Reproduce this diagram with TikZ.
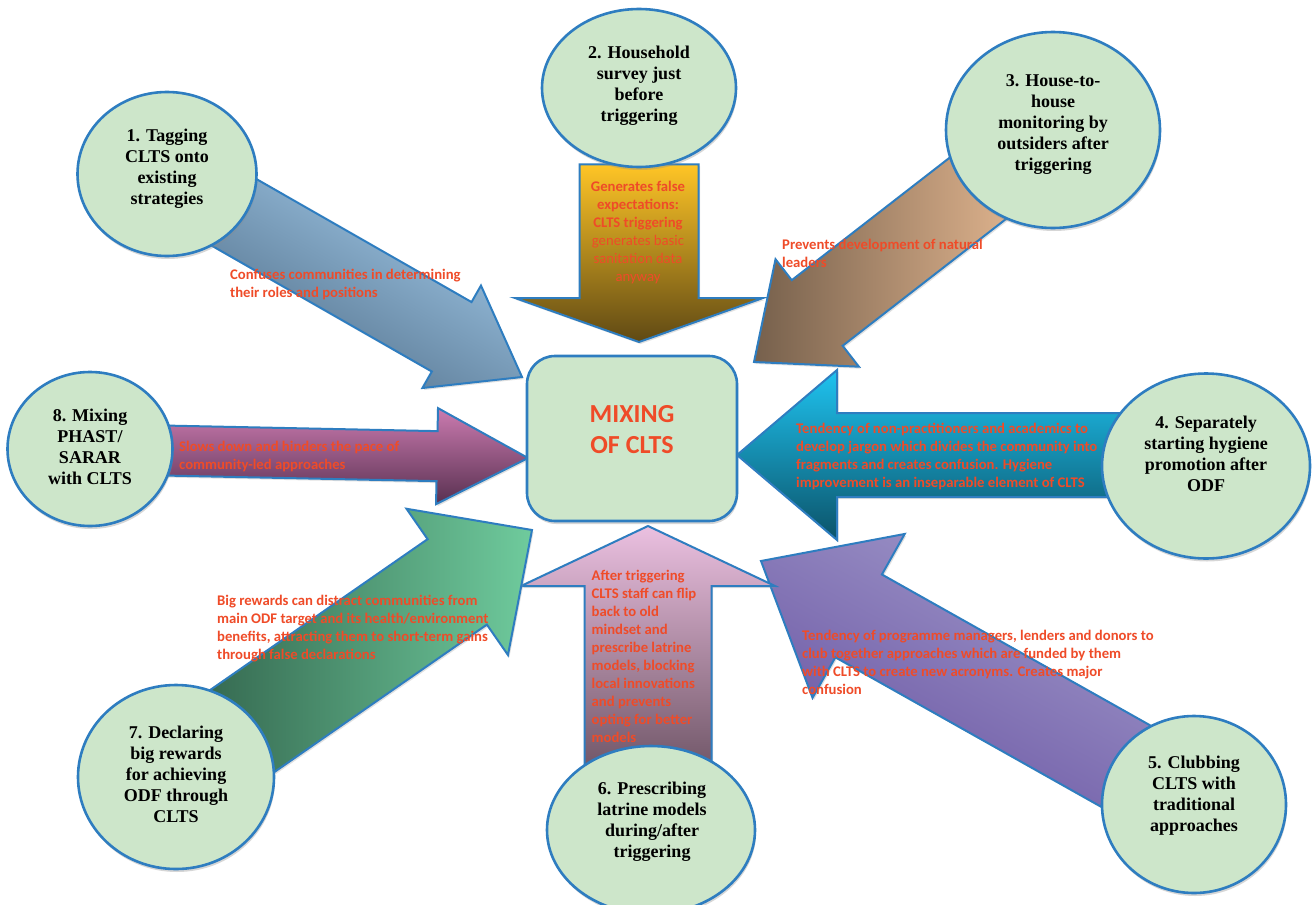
\documentclass[tikz,border=0pt]{standalone}
\usepackage{fontspec}
\setmainfont{Liberation Serif}
\newfontfamily\notefont{Carlito}
\usetikzlibrary{calc,shapes.geometric,shadows,backgrounds}
\definecolor{cltsline}{HTML}{2E7DC0}
\definecolor{cltsfill}{HTML}{CDE6CA}
\definecolor{cltsred}{HTML}{EF4B28}
\definecolor{blueL}{HTML}{A9D2F2}
\definecolor{blueD}{HTML}{4B6882}
\definecolor{goldT}{HTML}{FFC526}
\definecolor{goldM}{HTML}{B98A22}
\definecolor{goldB}{HTML}{5F4914}
\definecolor{peachL}{HTML}{F8C79D}
\definecolor{peachD}{HTML}{76604C}
\definecolor{cyanT}{HTML}{1FC3F0}
\definecolor{cyanM}{HTML}{0A9CC8}
\definecolor{cyanB}{HTML}{0B5369}
\definecolor{violL}{HTML}{A39CCC}
\definecolor{violD}{HTML}{6650A0}
\definecolor{pinkT}{HTML}{EBC0E0}
\definecolor{pinkB}{HTML}{6E5465}
\definecolor{greenL}{HTML}{6FCB9D}
\definecolor{greenD}{HTML}{2B5843}
\definecolor{plumT}{HTML}{CB7BB0}
\definecolor{plumB}{HTML}{583050}

\begin{document}
\begin{tikzpicture}[
  x=1pt, y=-1pt,
  spot/.style={ellipse, draw=cltsline, line width=2.6pt, fill=cltsfill, inner sep=0pt,
               drop shadow={shadow xshift=1pt, shadow yshift=-3pt, fill=black!45, opacity=.35}},
  spottext/.style={font=\bfseries\fontsize{18}{21}\selectfont, align=center, inner sep=0pt},
  hub/.style={draw=cltsline, line width=2.6pt, fill=cltsfill, rounded corners=28pt,
              minimum width=210pt, minimum height=165pt, inner sep=0pt,
              drop shadow={shadow xshift=1pt, shadow yshift=-3pt, fill=black!45, opacity=.35}},
  hubtext/.style={font=\notefont\bfseries\fontsize{26}{31}\selectfont, text=cltsred,
                  align=center, inner sep=0pt},
  note/.style={font=\notefont\bfseries\fontsize{14.7}{18}\selectfont, text=cltsred,
               align=left, anchor=west, inner sep=0pt},
  fat/.style={draw=cltsline, line width=2pt, line join=miter,
              drop shadow={shadow xshift=1.5pt, shadow yshift=-2pt, fill=black!40, opacity=.3}},
]

\def\fatarrow#1#2#3#4#5#6{%
  \coordinate (neck) at ($(#3)!#6!(#2)$);
  \draw[fat, #1] ($(#2)!#4!90:(#3)$) -- ($(neck)!#4!90:(#3)$) -- ($(neck)!#5!90:(#3)$)
    -- (#3) -- ($(neck)!#5!-90:(#3)$) -- ($(neck)!#4!-90:(#3)$)
    -- ($(#2)!#4!-90:(#3)$) -- cycle;}

\useasboundingbox (0,0) rectangle (1312,905);

% ---------------- the centre and the eight practices ----------------
\node[hub] (hub) at (632,438.5) {};
\node[hubtext] (hublbl) at (632,429.5) {MIXING\\OF CLTS};

\node[spot, minimum width=179pt, minimum height=164pt] (c1) at (167,174) {};
\node[spot, minimum width=194pt, minimum height=158pt] (c2) at (639,88) {};
\node[spot, minimum width=214pt, minimum height=196pt] (c3) at (1053,130) {};
\node[spot, minimum width=208pt, minimum height=185pt] (c4) at (1206,466) {};
\node[spot, minimum width=184pt, minimum height=177pt] (c5) at (1194,804.5) {};
\node[spot, minimum width=208pt, minimum height=168pt] (c6) at (651,830) {};
\node[spot, minimum width=196pt, minimum height=184pt] (c7) at (176,777) {};
\node[spot, minimum width=165pt, minimum height=154pt] (c8) at (90,449) {};

\node[spottext] (l1) at (167,168.5) {1. Tagging\\CLTS onto\\existing\\strategies};
\node[spottext] (l2) at (639,85.5) {2. Household\\survey just\\before\\triggering};
\node[spottext] (l3) at (1053,124.5) {3. House-to-\\house\\monitoring by\\outsiders after\\triggering};
\node[spottext] (l4) at (1206,453.5) {4. Separately\\starting hygiene\\promotion after\\ODF};
\node[spottext] (l5) at (1194,796) {5. Clubbing\\CLTS with\\traditional\\approaches};
\node[spottext] (l6) at (652,822) {6. Prescribing\\latrine models\\during/after\\triggering};
\node[spottext] (l7) at (176,774.3) {7. Declaring\\big rewards\\for achieving\\ODF through\\CLTS};
\node[spottext] (l8) at (90,447) {8. Mixing\\PHAST/\\SARAR\\with CLTS};

% ---------------- block arrows into the centre ----------------------
\coordinate (t1) at (522,377);
\coordinate (t2) at (639,342);
\coordinate (t3) at (754,362);
\coordinate (t4) at (737,455);
\coordinate (t5) at (761,561);
\coordinate (t6) at (648,526);
\coordinate (t7) at (532,530);
\coordinate (t8) at (528,458);
\coordinate (s2) at ([yshift=4pt]c2.south);
\coordinate (s4) at (c4 |- t4);
\coordinate (s6) at ([yshift=-30pt]c6.north -| t6);

\begin{scope}[on background layer]
  \fill[white] (0,0) rectangle (1312,905);
  \fatarrow{top color=blueL, bottom color=blueD, shading angle=-30}{c1}{t1}{40pt}{59pt}{81pt}
  \fatarrow{top color=goldT, middle color=goldM, bottom color=goldB}{s2}{t2}{59.5pt}{124pt}{44pt}
  \fatarrow{left color=peachD, right color=peachL}{c3}{t3}{41.5pt}{68pt}{80pt}
  \fatarrow{top color=cyanT, middle color=cyanM, bottom color=cyanB}{s4}{t4}{42pt}{85pt}{100pt}
  \fatarrow{top color=violL, bottom color=violD, shading angle=-28}{c5}{t5}{47.5pt}{94pt}{112pt}
  \fatarrow{top color=pinkT, bottom color=pinkB}{s6}{t6}{63.5pt}{127pt}{60pt}
  \fatarrow{left color=greenD, right color=greenL}{c7}{t7}{52pt}{89pt}{91pt}
  \fatarrow{top color=plumT, bottom color=plumB}{c8}{t8}{25pt}{48pt}{91pt}
\end{scope}

% ---------------- what each one does --------------------------------
\node[note] (n1) at (230,284) {Confuses communities in determining\\their roles and positions};
\node[note, anchor=center, align=center] (n2) at (638,233)
  {Generates false\\expectations:\\CLTS triggering\\{\mdseries generates basic}\\
   {\mdseries sanitation data}\\{\mdseries anyway}};
\node[note] (n3) at (782,253) {Prevents development of natural\\leaders};
\node[note] (n4) at (796,456.5) {Tendency of non-practitioners and academics to\\
  develop jargon which divides the community into\\fragments and creates confusion. Hygiene\\
  improvement is an inseparable element of CLTS};
\node[note] (n5) at (802,662) {Tendency of programme managers, lenders and donors to\\
  club together approaches which are funded by them\\with CLTS to create new acronyms. Creates major\\
  confusion};
\node[note] (n6) at (591.5,656.7) {After triggering\\CLTS staff can flip\\back to old\\mindset and\\
  prescribe latrine\\models, blocking\\local innovations\\and prevents\\opting for better\\models};
\node[note] (n7) at (217,628.8) {Big rewards can distract communities from\\
  main ODF target and its health/environment\\benefits, attracting them to short-term gains\\
  through false declarations};
\node[note] (n8) at (179,456) {Slows down and hinders the pace of\\community-led approaches};

\end{tikzpicture}
\end{document}
